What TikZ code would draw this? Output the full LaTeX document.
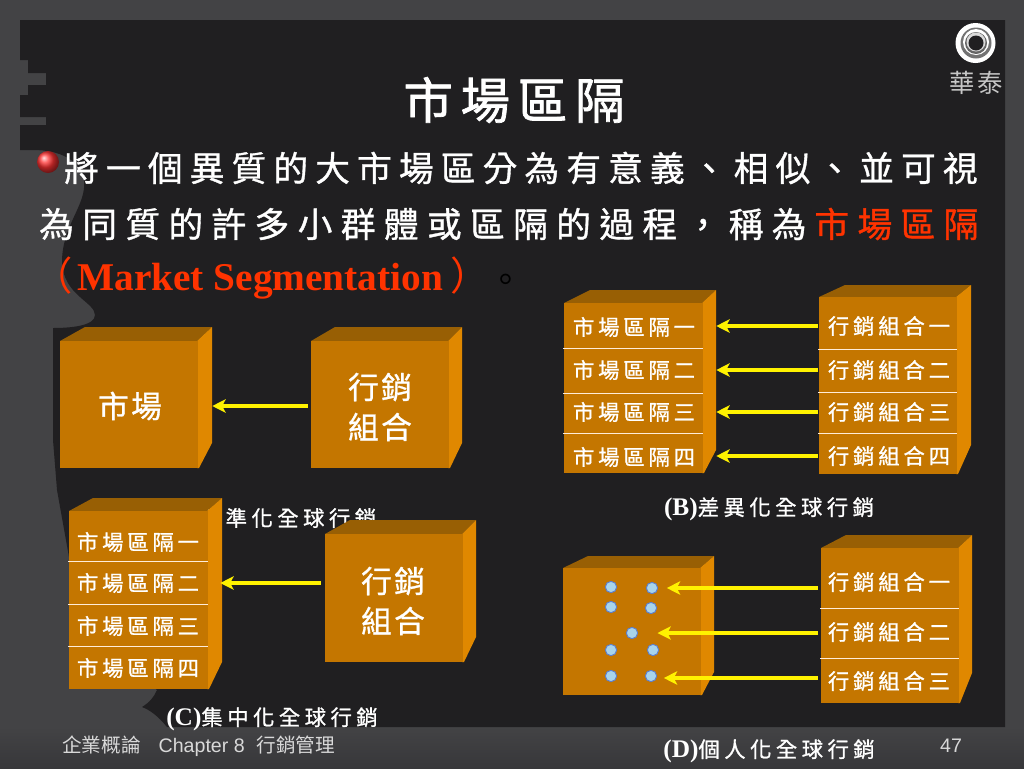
\documentclass[tikz,border=0pt]{standalone}
\usepackage{fontspec}
\usetikzlibrary{arrows.meta,shadings}
\setmainfont{Liberation Serif}
\setsansfont{Liberation Sans}
\newfontfamily\cjk{Noto Sans CJK TC}
\definecolor{bggray}{HTML}{434345}
\definecolor{bgfoot}{HTML}{37373A}
\definecolor{panel}{HTML}{201F21}
\definecolor{front}{HTML}{C47600}
\definecolor{topface}{HTML}{985F04}
\definecolor{sideface}{HTML}{E08800}
\definecolor{redtext}{HTML}{FF3300}
\definecolor{dotfill}{HTML}{A8D4EC}
\definecolor{dotline}{HTML}{5B7FD0}
\tikzset{
  titletext/.style={text=white,inner sep=0pt,font=\cjk\fontsize{37}{40}\selectfont\addfontfeature{LetterSpace=16,FakeBold=1.5}},
  bodytext/.style={text=white,inner sep=0pt,anchor=west,font=\cjk\fontsize{26}{30}\selectfont\addfontfeature{LetterSpace=20.7,FakeBold=1}},
  bodytexttwo/.style={text=white,inner sep=0pt,anchor=west,font=\cjk\fontsize{26}{30}\selectfont\addfontfeature{LetterSpace=24.3,FakeBold=1}},
  seglabel/.style={text=white,inner sep=0pt,minimum width=123pt,font=\cjk\fontsize{16}{18}\selectfont\addfontfeature{LetterSpace=18,FakeBold=1}},
  mixlabel/.style={text=white,inner sep=0pt,minimum width=106pt,font=\cjk\fontsize{16}{18}\selectfont\addfontfeature{LetterSpace=18,FakeBold=1}},
  biglabel/.style={text=white,inner sep=0pt,align=center,font=\cjk\fontsize{23}{30}\selectfont\addfontfeature{LetterSpace=8,FakeBold=1}},
  captiontext/.style={text=white,inner sep=0pt,font=\cjk\fontsize{16}{18}\selectfont\addfontfeature{LetterSpace=21,FakeBold=1}},
  foottext/.style={text=black!15,inner sep=0pt,font=\sffamily\fontsize{14.7}{16}\selectfont},
  yarrow/.style={draw=yellow,line width=3pt,-{Stealth[length=10pt,width=10pt,inset=2.5pt]}},
  rowline/.style={draw=white!85!orange,line width=.6pt},
  dotmark/.style={circle,draw=dotline,fill=dotfill,line width=.7pt,minimum size=8.5pt,inner sep=0pt}
}
\newcommand\capmark[1]{{\fontspec{Liberation Serif}\bfseries\fontsize{19}{20}\selectfont(#1)}}
% x1 x2 ytop ybottom xbackleft xbackright yback yside
\newcommand\orangebox[8]{
  \fill[topface] (#1,#3) -- (#5,#7) -- (#6,#7) -- (#2,#3) -- cycle;
  \fill[sideface] (#2,#3) -- (#6,#7) -- (#6,#8) -- (#2+2,#4) -- (#2,#4) -- cycle;
  \fill[front] (#1,#3) rectangle (#2+1,#4);
}
\begin{document}
\begin{tikzpicture}[x=.75pt,y=-.75pt]
    \useasboundingbox (0,0) rectangle (1024,768);
    \fill[bggray] (0,0) rectangle (1024,768);
    \fill[top color=bggray,bottom color=bgfoot] (0,727) rectangle (1024,768);
    \fill[panel] (20,20) -- (1005,20) -- (1005,727) -- (167,727) .. controls (158,716) and (150,710) .. (142,707)
      .. controls (150,702) and (154,697) .. (157,690) -- (100,640) -- (69,557) -- (57,490) -- (53,440) -- (53,328)
      .. controls (70,328) and (95,326) .. (95,315) .. controls (95,302) and (63,295) .. (62,262)
      .. controls (62,225) and (87,205) .. (84,180) .. controls (80,160) and (60,150) .. (33,150)
      -- (20,150) -- (20,125) -- (46,125) -- (46,117) -- (20,117) -- (20,95) -- (28,95) -- (28,85) -- (46,85) -- (46,73)
      -- (28,73) -- (28,60) -- (20,60) -- cycle;

    % logo
    \fill[white] (975.5,43) circle (20);
    \fill[black!55] (976,43) circle (15.5);
    \fill[white] (976,42) circle (13);
    \fill[black!60] (976,43) circle (11);
    \fill[white!85!black] (976,42) circle (9.5);
    \fill[panel] (976,43) circle (7.5);
    \node[text=black!22,inner sep=0pt,font=\cjk\fontsize{19}{20}\selectfont\addfontfeature{LetterSpace=12}] (logotext) at (976,83) {華泰};

    \node[titletext] (title) at (514,100) {市場區隔};
    \shade[ball color=red!80!white] (48,162) circle (11);
    \node[bodytext] (lineone) at (64,168) {將一個異質的大市場區分為有意義、相似、並可視};
    \node[bodytexttwo] (linetwo) at (39,224) {為同質的許多小群體或區隔的過程，稱為\kern6pt\textcolor{redtext}{市場區隔}};
    \node[anchor=west,inner sep=0pt,text=redtext,font=\bfseries\fontsize{29.5}{30}\selectfont] (linethree) at (33,278) {{\cjk\mdseries（}\kern3.5pt Market Segmentation\kern5.5pt{\cjk\mdseries）}};
    \node[inner sep=0pt,text=black,font=\cjk\fontsize{26}{30}\selectfont] (stop) at (506,283) {。};

    \node[captiontext] (capa) at (288,518) {標準化全球行銷};

    % A
    \orangebox{60}{197}{341}{468}{85}{212}{327}{443}
    \orangebox{311}{448}{341}{468}{335}{462}{327}{443}
    \node[biglabel,minimum width=123pt] (market) at (130,406) {市場};
    \node[biglabel,minimum width=108pt] (mixa) at (380,407) {行銷\\組合};
    \draw[yarrow] (mixa.west |- market.east) -- (market.east);

    % B
    \orangebox{564}{702}{303}{473}{590}{716}{290}{450}
    \orangebox{819}{956}{297}{474}{845}{971}{285}{445}
    \foreach \y in {348,393,433} \draw[rowline] (563,\y) -- (703,\y);
    \foreach \y in {349,392,433} \draw[rowline] (818,\y) -- (957,\y);
    \node[seglabel] (segb1) at (634,327) {市場區隔一};
    \node[seglabel] (segb2) at (634,370) {市場區隔二};
    \node[seglabel] (segb3) at (634,412) {市場區隔三};
    \node[seglabel] (segb4) at (634,457) {市場區隔四};
    \node[mixlabel] (mixb1) at (889,326) {行銷組合一};
    \node[mixlabel] (mixb2) at (889,370) {行銷組合二};
    \node[mixlabel] (mixb3) at (889,412) {行銷組合三};
    \node[mixlabel] (mixb4) at (889,456) {行銷組合四};
    \foreach \i in {1,2,3,4} \draw[yarrow] (mixb\i.west) -- (mixb\i.west -| segb\i.east);
    \node[captiontext] (capb) at (769,509) {\capmark{B}差異化全球行銷};

    % C
    \orangebox{69}{207}{511}{689}{93}{222}{498}{662}
    \orangebox{325}{462}{534}{662}{350}{476}{520}{637}
    \foreach \y in {561,604,646} \draw[rowline] (68,\y) -- (208,\y);
    \node[seglabel] (segc1) at (138,542) {市場區隔一};
    \node[seglabel] (segc2) at (138,583) {市場區隔二};
    \node[seglabel] (segc3) at (138,626) {市場區隔三};
    \node[seglabel] (segc4) at (138,668) {市場區隔四};
    \node[biglabel,minimum width=108pt] (mixc) at (393,601) {行銷\\組合};
    \draw[yarrow] (mixc.west |- segc2.east) -- (segc2.east);
    \node[captiontext] (capc) at (272,719) {\capmark{C}集中化全球行銷};

    % D
    \orangebox{563}{700}{568}{695}{588}{714}{556}{672}
    \orangebox{821}{958}{548}{703}{846}{972}{535}{673}
    \foreach \y in {608,658} \draw[rowline] (820,\y) -- (959,\y);
    \node[mixlabel] (mixd1) at (889,582) {行銷組合一};
    \node[mixlabel] (mixd2) at (889,632) {行銷組合二};
    \node[mixlabel] (mixd3) at (889,681) {行銷組合三};
    \node[dotmark] (dot1) at (611,587) {};
    \node[dotmark] (dot2) at (652,588) {};
    \node[dotmark] (dot3) at (611,607) {};
    \node[dotmark] (dot4) at (651,608) {};
    \node[dotmark] (dot5) at (632,633) {};
    \node[dotmark] (dot6) at (611,650) {};
    \node[dotmark] (dot7) at (653,650) {};
    \node[dotmark] (dot8) at (611,676) {};
    \node[dotmark] (dot9) at (651,676) {};
    \draw[yarrow,shorten >=6.5pt] (mixd1.west |- dot2.east) -- (dot2.east);
    \draw[yarrow,shorten >=14.5pt] (mixd2.west |- dot5.east) -- (dot5.east);
    \draw[yarrow,shorten >=5pt] ([yshift=-1.5pt]mixd3.west |- dot9.east) -- ([yshift=-1.5pt]dot9.east);
    \node[captiontext] (capd) at (769,751) {\capmark{D}個人化全球行銷};

    \node[foottext,anchor=west] (footleft) at (62,746) {{\cjk 企業概論}\hspace{13.5pt}Chapter 8\hspace{9pt}{\cjk 行銷管理}};
    \node[foottext] (pageno) at (951,746) {47};
\end{tikzpicture}
\end{document}
